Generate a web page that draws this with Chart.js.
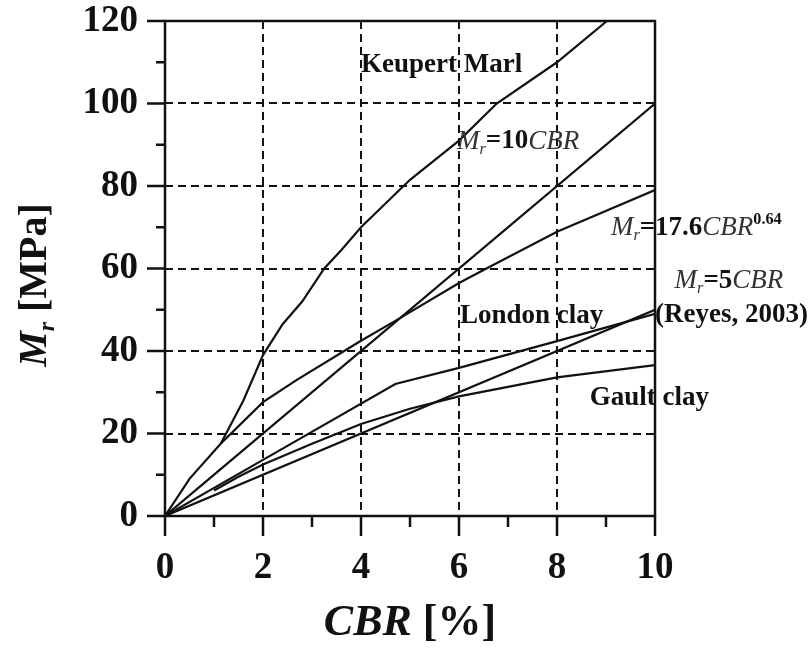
<!DOCTYPE html>
<html>
<head>
<meta charset="utf-8">
<script src="https://cdn.jsdelivr.net/npm/chart.js@4.4.0/dist/chart.umd.min.js"></script>
<style>
  html, body { margin: 0; padding: 0; background: #fff; }
  #wrap { width: 809px; height: 651px; }
</style>
</head>
<body>
<div id="wrap"><canvas id="c"></canvas></div>
<script>
const SERIF = '"Liberation Serif", "DejaVu Serif", serif';
const INK = '#111';
const SOFT = '#333';

// ---- data: CBR [%] -> Mr [MPa] ----
const cbrLinear = [0, 10];
const mr10cbr = [0, 100];
const mr5cbr = [0, 50];

const cbrPow = [0, 0.5, 1.14, 2, 2.69, 4, 4.7, 6, 6.56, 8, 10];
const mrPow = [0, 9, 17.6, 27.6, 33, 42.5, 47.3, 56.5, 60, 68.9, 79];

const cbrKeuper = [1.14, 1.6, 2, 2.4, 2.8, 3.25, 3.6, 4, 5, 6, 6.77, 8, 9.02];
const mrKeuper = [17.6, 28, 39, 46.5, 52, 60, 64.5, 70, 81.5, 91, 100, 110, 120];

const cbrLondon = [0, 2, 4.7, 6, 8, 10];
const mrLondon = [0, 13.6, 32, 35.9, 42.4, 49];

const cbrGault = [1, 1.5, 2, 3, 4, 5, 6, 8, 10];
const mrGault = [6.2, 9.5, 12.5, 17.5, 22.3, 26, 29, 33.6, 36.6];

const xTicks = [0, 2, 4, 6, 8, 10];
const yTicks = [0, 20, 40, 60, 80, 100, 120];
const xMinor = [1, 3, 5, 7, 9];
const yMinor = [10, 30, 50, 70, 90, 110];

const pts = (xs, ys) => xs.map((x, i) => ({ x, y: ys[i] }));
const curve = (xs, ys) => ({
  data: pts(xs, ys), showLine: true, borderColor: INK, borderWidth: 2.2,
  pointRadius: 0, tension: 0, fill: false,
});

// in-plot labels, anchored at their left edge (data coords)
const notes = [
  { x: 4.0, y: 109.4, parts: [{ t: 'Keupert Marl', b: 1 }] },
  { x: 5.96, y: 90.8, parts: [{ t: 'M', i: 1 }, { t: 'r', i: 1, sub: 1 }, { t: '=10', b: 1 }, { t: 'CBR', i: 1 }] },
  { x: 9.1, y: 69.8, parts: [{ t: 'M', i: 1 }, { t: 'r', i: 1, sub: 1 }, { t: '=17.6', b: 1 }, { t: 'CBR', i: 1 }, { t: '0.64', b: 1, sup: 1 }] },
  { x: 10.4, y: 57, parts: [{ t: 'M', i: 1 }, { t: 'r', i: 1, sub: 1 }, { t: '=5', b: 1 }, { t: 'CBR', i: 1 }] },
  { x: 10.0, y: 48.7, parts: [{ t: '(Reyes, 2003)', b: 1 }] },
  { x: 6.02, y: 48.5, parts: [{ t: 'London clay', b: 1 }] },
  { x: 8.67, y: 28.6, parts: [{ t: 'Gault clay', b: 1 }] },
];

function partFont(p, size) {
  const sz = (p.sub || p.sup) ? size * 0.6 : size;
  return `${p.i ? 'italic ' : ''}${p.b ? 'bold ' : ''}${sz}px ${SERIF}`;
}
function richWidth(ctx, parts, size) {
  let w = 0;
  parts.forEach(p => { ctx.font = partFont(p, size); w += ctx.measureText(p.t).width; });
  return w;
}
function drawRich(ctx, parts, x, y, size) {
  let cx = x;
  ctx.textBaseline = 'middle';
  ctx.textAlign = 'left';
  parts.forEach(p => {
    ctx.font = partFont(p, size);
    ctx.fillStyle = p.i && !p.b ? SOFT : INK;
    const dy = p.sub ? size * 0.3 : p.sup ? -size * 0.3 : 0;
    ctx.fillText(p.t, cx, y + dy);
    cx += ctx.measureText(p.t).width;
  });
}

const frame = {
  id: 'frame',
  afterDatasetsDraw(chart) {
    const { ctx, chartArea: a, scales: { x, y } } = chart;
    ctx.save();
    ctx.strokeStyle = INK;
    ctx.lineWidth = 2.5;
    ctx.strokeRect(a.left, a.top, a.right - a.left, a.bottom - a.top);

    ctx.beginPath();
    xTicks.forEach(v => { const px = x.getPixelForValue(v); ctx.moveTo(px, a.bottom); ctx.lineTo(px, a.bottom + 20); });
    xMinor.forEach(v => { const px = x.getPixelForValue(v); ctx.moveTo(px, a.bottom); ctx.lineTo(px, a.bottom + 11); });
    yTicks.forEach(v => { const py = y.getPixelForValue(v); ctx.moveTo(a.left, py); ctx.lineTo(a.left - 18, py); });
    yMinor.forEach(v => { const py = y.getPixelForValue(v); ctx.moveTo(a.left, py); ctx.lineTo(a.left - 9, py); });
    ctx.stroke();

    notes.forEach(n => drawRich(ctx, n.parts, x.getPixelForValue(n.x), y.getPixelForValue(n.y), 27));

    // axis titles
    const xt = [{ t: 'CBR', i: 1, b: 1 }, { t: ' [%]', b: 1 }];
    const xw = richWidth(ctx, xt, 44);
    drawRich(ctx, xt, (a.left + a.right) / 2 - xw / 2, 624, 44);

    const yt = [{ t: 'M', i: 1, b: 1 }, { t: 'r', i: 1, b: 1, sub: 1 }, { t: ' [MPa]', b: 1 }];
    const yw = richWidth(ctx, yt, 40);
    ctx.translate(36, 285);
    ctx.rotate(-Math.PI / 2);
    drawRich(ctx, yt, -yw / 2, 0, 40);
    ctx.restore();
  },
};

const gridColor = c => (c.tick && (c.tick.value === 0 || c.tick.value === 10 && c.scale.axis === 'x' || c.tick.value === 120)) ? 'rgba(0,0,0,0)' : INK;

new Chart(document.getElementById('c'), {
  type: 'scatter',
  data: {
    datasets: [
      curve(cbrKeuper, mrKeuper),
      curve(cbrLinear, mr10cbr),
      curve(cbrPow, mrPow),
      curve(cbrLinear, mr5cbr),
      curve(cbrLondon, mrLondon),
      curve(cbrGault, mrGault),
    ],
  },
  plugins: [frame],
  options: {
    responsive: true,
    maintainAspectRatio: false,
    animation: false,
    events: [],
    layout: { padding: { top: 21, right: 154, left: 0, bottom: 0 } },
    plugins: { legend: { display: false }, tooltip: { enabled: false } },
    scales: {
      x: {
        type: 'linear', min: 0, max: 10,
        afterBuildTicks: s => { s.ticks = xTicks.map(v => ({ value: v })); },
        afterFit: s => { s.height = 135; s.paddingLeft = 0; s.paddingRight = 0; },
        ticks: { color: INK, padding: 34, maxRotation: 0, autoSkip: false,
          font: { family: SERIF, size: 37, weight: 'bold', lineHeight: 1 } },
        grid: { color: gridColor, lineWidth: 2, drawTicks: false },
        border: { display: false, dash: [8, 5] },
      },
      y: {
        type: 'linear', min: 0, max: 120,
        afterBuildTicks: s => { s.ticks = yTicks.map(v => ({ value: v })); },
        afterFit: s => { s.width = 165; s.paddingTop = 0; s.paddingBottom = 0; },
        ticks: { color: INK, padding: 27,
          font: { family: SERIF, size: 37, weight: 'bold', lineHeight: 1 } },
        grid: { color: gridColor, lineWidth: 2, drawTicks: false },
        border: { display: false, dash: [8, 5] },
      },
    },
  },
});
</script>
</body>
</html>
